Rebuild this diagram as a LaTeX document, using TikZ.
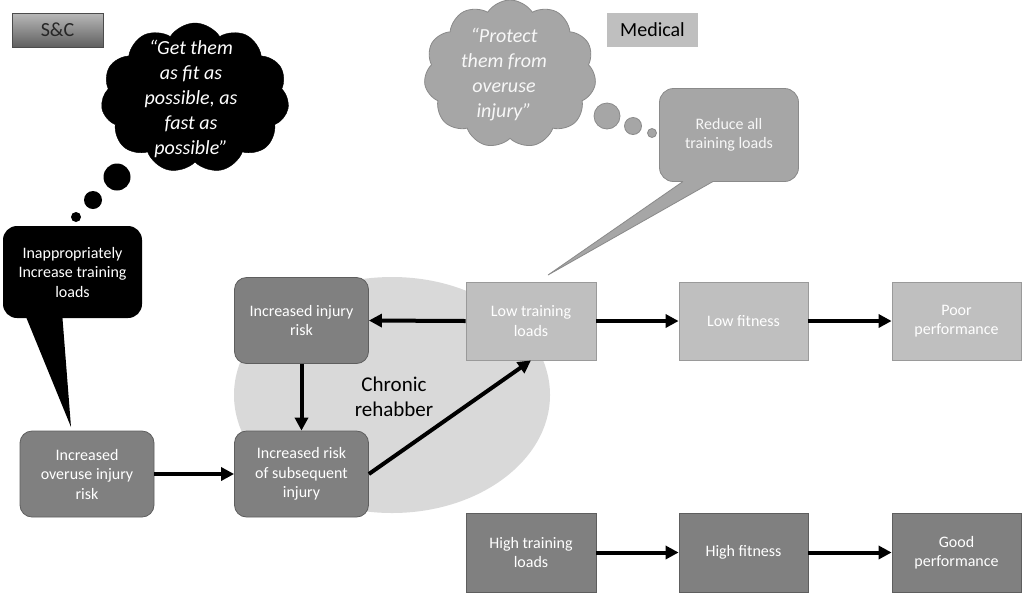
\documentclass[tikz,border=0pt]{standalone}
\usepackage{fontspec}
\setmainfont{Carlito}
\usetikzlibrary{arrows.meta,shapes.geometric,shapes.symbols}
\definecolor{darkbox}{HTML}{808080}
\definecolor{darkedge}{HTML}{5E5E5E}
\definecolor{lightbox}{HTML}{BFBFBF}
\definecolor{lightedge}{HTML}{9A9A9A}
\definecolor{ellfill}{HTML}{D9D9D9}
\definecolor{medfill}{HTML}{A6A6A6}
\definecolor{mededge}{HTML}{8A8A8A}
\tikzset{
  boxtext/.style={font=\fontsize{16}{19.5}\selectfont, align=center, text=white, inner sep=2pt},
  roundbox/.style={boxtext, fill=darkbox, draw=darkedge, line width=0.8pt, rounded corners=12pt, minimum width=134pt, minimum height=86pt},
  lightsq/.style={boxtext, fill=lightbox, draw=lightedge, line width=0.8pt, minimum width=130pt, minimum height=78pt},
  darksq/.style={boxtext, fill=darkbox, draw=darkedge, line width=0.8pt, minimum width=130pt, minimum height=79pt},
  flow/.style={line width=4pt, -{Triangle[length=13pt,width=13pt]}},
  cloudtext/.style={font=\fontsize{20}{25}\selectfont\itshape, align=center, inner sep=0pt},
  labelbox/.style={font=\fontsize{20}{24}\selectfont, minimum width=91pt, minimum height=34pt, inner sep=0pt}
}
\begin{document}
\begin{tikzpicture}[x=1pt,y=-1pt]
\useasboundingbox (0,0) rectangle (1024,595);
\fill[white] (0,0) rectangle (1024,595);

% labels
\node[labelbox, top color=gray!55, bottom color=gray!75!black, draw=black!70, line width=0.8pt, text=black!85] (sc) at (57.5,30) {S\&C};
\node[labelbox, fill=lightbox, text=black] (med) at (652.5,30) {Medical};

% ellipse
\node[ellipse, fill=ellfill, minimum width=316pt, minimum height=236pt, inner sep=0pt] (ell) at (392,395) {};
\node[font=\fontsize{21}{25}\selectfont, align=center, text=black] (chr) at (394,397) {Chronic\\rehabber};

% S&C thought cloud
\node[cloud, cloud puffs=11, cloud puff arc=115, aspect=1.25, fill=black, draw=black, minimum width=188pt, minimum height=150pt, inner sep=0pt] (cloudA) at (195,98) {};
\node[cloudtext, text=white] (cloudAtxt) at (191,99) {“Get them\\as fit as\\possible, as\\fast as\\possible”};
\fill[black] (117,177) circle (13.5);
\fill[black] (93,200) circle (9);
\fill[black] (76,217) circle (5);

% S&C callout
\node[boxtext, fill=black, rounded corners=14pt, minimum width=139pt, minimum height=92pt] (callA) at (72.5,272) {Inappropriately\\Increase training\\loads};
\coordinate (tipA) at (71,427);
\fill[black] (24,312) -- (tipA) -- (62,312) -- cycle;

% Medical thought cloud
\node[cloud, cloud puffs=11, cloud puff arc=115, aspect=1.15, fill=medfill, draw=mededge, line width=0.8pt, minimum width=172pt, minimum height=148pt, inner sep=0pt] (cloudB) at (510,74) {};
\node[cloudtext, text=white!97!black] (cloudBtxt) at (504,75) {“Protect\\them from\\overuse\\injury”};
\filldraw[fill=medfill, draw=mededge, line width=0.8pt] (607,116) circle (13);
\filldraw[fill=medfill, draw=mededge, line width=0.8pt] (633,126) circle (8.5);
\filldraw[fill=medfill, draw=mededge, line width=0.8pt] (652,133) circle (4.5);

% Medical callout
\node[boxtext, fill=medfill, draw=mededge, line width=0.8pt, rounded corners=14pt, minimum width=139pt, minimum height=93pt, text=white!97!black] (callB) at (729,135) {Reduce all\\training loads};
\coordinate (tipB) at (548,275);
\fill[medfill] (683,178) -- (683,181.5) -- (tipB) -- (713,181.5) -- (713,178) -- cycle;
\draw[mededge, line width=0.8pt, line join=miter] (683,181.5) -- (tipB) -- (713,181.5);

% boxes
\node[roundbox] (inj) at (301.5,320.5) {Increased injury\\risk};
\node[roundbox] (sub) at (301.5,474) {Increased risk\\of subsequent\\injury};
\node[roundbox] (over) at (87,474) {Increased\\overuse injury\\risk};
\node[lightsq] (low) at (531,321) {Low training\\loads};
\node[lightsq, minimum width=129pt] (lowfit) at (743.5,321) {Low fitness};
\node[lightsq, minimum width=129pt] (poor) at (956.5,321) {Poor\\performance};
\node[darksq] (high) at (531,552.5) {High training\\loads};
\node[darksq, minimum width=129pt] (highfit) at (743.5,552.5) {High fitness};
\node[darksq, minimum width=129pt] (good) at (956.5,552.5) {Good\\performance};

% arrows
\draw[flow] (low.west) -- (inj.east);
\draw[flow] (inj.south) -- (sub.north);
\draw[flow] (over.east) -- (sub.west);
\draw[flow] (sub.east) -- (low.south);
\draw[flow] (low.east) -- (lowfit.west);
\draw[flow] (lowfit.east) -- (poor.west);
\draw[flow] (high.east) -- (highfit.west);
\draw[flow] (highfit.east) -- (good.west);
\end{tikzpicture}
\end{document}
